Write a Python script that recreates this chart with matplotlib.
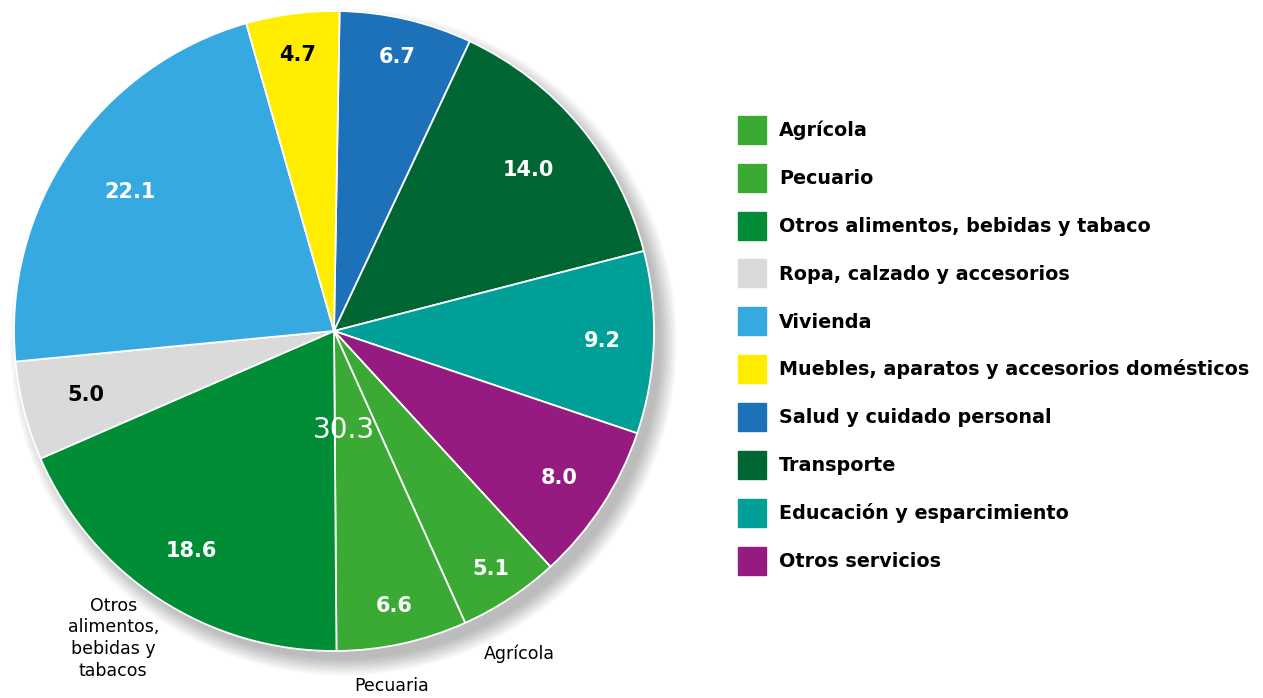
import numpy as np
import matplotlib.pyplot as plt
from matplotlib.patches import Circle

# legend order
categories = ["Agrícola", "Pecuario", "Otros alimentos, bebidas y tabaco",
              "Ropa, calzado y accesorios", "Vivienda",
              "Muebles, aparatos y accesorios domésticos",
              "Salud y cuidado personal", "Transporte",
              "Educación y esparcimiento", "Otros servicios"]
values = [5.1, 6.6, 18.6, 5.0, 22.1, 4.7, 6.7, 14.0, 9.2, 8.0]
colors = ["#3AAA35", "#3AAA35", "#008D36", "#DADADA", "#36A9E1",
          "#FFED00", "#1D71B8", "#006633", "#00A099", "#951B81"]
label_colors = ["white", "white", "white", "black", "white",
                "black", "white", "white", "white", "white"]
# distance of each value label from the centre (fraction of radius)
label_dist = [0.89, 0.88, 0.82, 0.80, 0.77, 0.87, 0.88, 0.79, 0.84, 0.84]

# the pie starts at Salud and goes clockwise
first = 6
pie_vals = values[first:] + values[:first]
pie_cols = colors[first:] + colors[:first]
pie_lblc = label_colors[first:] + label_colors[:first]
pie_dist = label_dist[first:] + label_dist[:first]

food_total = values[0] + values[1] + values[2]

fig = plt.figure(figsize=(12.63, 6.98), dpi=100)
ax = fig.add_axes([14 / 1263, 47 / 698, 640 / 1263, 640 / 698])

# soft shadow behind the pie (mostly bottom right)
for k in range(14):
    ax.add_patch(Circle((0.03, -0.035), 0.99 + k * 0.004, color="black",
                        alpha=0.02, lw=0, zorder=0, clip_on=False))

wedges, _ = ax.pie(
    pie_vals, colors=pie_cols, startangle=89, counterclock=False,
    wedgeprops=dict(edgecolor="white", linewidth=1.3))
for w, v, c, d in zip(wedges, pie_vals, pie_lblc, pie_dist):
    w.set_clip_on(False)
    ang = np.deg2rad((w.theta1 + w.theta2) / 2)
    ax.text(d * np.cos(ang), d * np.sin(ang), f"{v:.1f}", color=c,
            fontsize=15, fontweight="bold", ha="center", va="center")

ax.text(0.03, -0.31, f"{food_total:.1f}", color="white", fontsize=20,
        ha="center", va="center")

ax.text(-0.69, -0.96, "Otros\nalimentos,\nbebidas y\ntabacos", fontsize=12.5,
        ha="center", va="center", linespacing=1.26)
ax.text(0.58, -1.01, "Agrícola", fontsize=12.5, ha="center", va="center")
ax.text(0.18, -1.11, "Pecuaria", fontsize=12.5, ha="center", va="center")

ax.set_xlim(-1, 1)
ax.set_ylim(-1, 1)
ax.set_aspect("equal")
ax.axis("off")

handles = [plt.Rectangle((0, 0), 1, 1, color=c) for c in colors]
fig.legend(handles, categories, loc="upper left",
           bbox_to_anchor=(730 / 1263, 1 - 108 / 698), frameon=False,
           prop=dict(size=13.8, weight="bold"), handlelength=1.46,
           handleheight=1.87, labelspacing=1.04, handletextpad=0.7,
           borderaxespad=0)

fig.savefig("out.png", dpi=100)
